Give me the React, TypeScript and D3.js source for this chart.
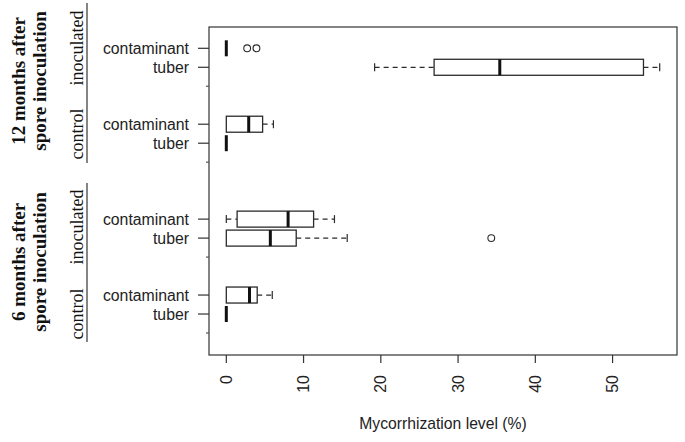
import * as d3 from 'd3';

// Box statistics (values in %)
const boxLabels = ["contaminant", "tuber", "contaminant", "tuber", "contaminant", "tuber", "contaminant", "tuber"];
const boxSlots = [16, 15, 12, 11, 7, 6, 3, 2];
const whiskerLow = [0, 19.2, 0, 0, 0, 0, 0, 0];
const q1 = [0, 26.9, 0, 0, 1.4, 0, 0, 0];
const median = [0, 35.4, 2.9, 0, 8.0, 5.7, 3.0, 0];
const q3 = [0, 54.0, 4.7, 0, 11.3, 9.05, 4.0, 0];
const whiskerHigh = [0, 56.1, 6.1, 0, 14.0, 15.65, 5.95, 0];
const outliers = [[2.7, 3.9], [], [], [], [], [34.3], [], []];
const emptySlots = [14, 10, 5, 1];
const xTicks = [0, 10, 20, 30, 40, 50];

const treatmentLabels = ["inoculated", "control", "inoculated", "control"];
const treatmentCenters = [48, 134, 227, 314];
const periodLabels = [
  ["12 months after", "spore inoculation"],
  ["6 months after", "spore inoculation"],
];
const periodCenters = [81, 262];
const periodBars = [[3, 163], [183, 342]];

const W = 685;
const H = 442;
const plot = { left: 209, right: 677, top: 27, bottom: 355 };

const sans = "'Liberation Sans', Arial, sans-serif";
const serif = "'Liberation Serif', 'Times New Roman', serif";

export default function App() {
  const x = d3.scaleLinear().domain([-2.24, 58.34]).range([plot.left, plot.right]);
  const y = d3.scaleLinear().domain([1, 16]).range([333, 48.3]);
  const half = 8;
  const stroke = "#2b2b2b";

  return (
    <div style={{ position: 'fixed', left: 0, top: 0 }}>
      <svg width={W} height={H} style={{ display: 'block', background: '#fff' }}>
        {/* period titles */}
        {periodLabels.map((lines, i) => (
          <g key={'p' + i}>
            {lines.map((t, j) => (
              <text key={j}
                transform={`translate(${j === 0 ? 25 : 46},${periodCenters[i]}) rotate(-90)`}
                textAnchor="middle" fontFamily={serif} fontWeight="bold" fontSize={19} fill="#111">
                {t}
              </text>
            ))}
            <line x1={87} x2={87} y1={periodBars[i][0]} y2={periodBars[i][1]} stroke="#333" strokeWidth={1.2} />
          </g>
        ))}

        {treatmentLabels.map((t, i) => (
          <text key={'t' + i}
            transform={`translate(83,${treatmentCenters[i]}) rotate(-90)`}
            textAnchor="middle" fontFamily={serif} fontSize={18} fill="#111">
            {t}
          </text>
        ))}

        {/* frame */}
        <rect x={plot.left} y={plot.top} width={plot.right - plot.left} height={plot.bottom - plot.top}
          fill="none" stroke="#333" strokeWidth={1.2} />

        {/* y ticks */}
        {boxSlots.map((s, i) => (
          <g key={'yt' + i}>
            <line x1={198} x2={plot.left} y1={y(s)} y2={y(s)} stroke="#333" strokeWidth={1.2} />
            <text x={189} y={y(s)} dy="0.35em" textAnchor="end" fontFamily={sans} fontSize={15.8} fill="#222">
              {boxLabels[i]}
            </text>
          </g>
        ))}
        {emptySlots.map((s, i) => (
          <line key={'ye' + i} x1={206} x2={plot.left} y1={y(s)} y2={y(s)} stroke="#555" strokeWidth={1.2} />
        ))}

        {/* x ticks */}
        {xTicks.map((t) => (
          <g key={'xt' + t}>
            <line x1={x(t)} x2={x(t)} y1={plot.bottom} y2={363} stroke="#333" strokeWidth={1.2} />
            <text transform={`translate(${x(t)},375) rotate(-90)`} dy="0.35em" textAnchor="end"
              fontFamily={sans} fontSize={16} fill="#222">
              {t}
            </text>
          </g>
        ))}
        <text x={443} y={429} textAnchor="middle" fontFamily={sans} fontSize={15.7} fill="#222">
          Mycorrhization level (%)
        </text>

        {/* boxes */}
        {boxSlots.map((s, i) => {
          const cy = y(s);
          return (
            <g key={'b' + i}>
              {whiskerLow[i] < q1[i] && (
                <>
                  <line x1={x(whiskerLow[i])} x2={x(q1[i])} y1={cy} y2={cy} stroke={stroke} strokeWidth={1.2} strokeDasharray="5,4" />
                  <line x1={x(whiskerLow[i])} x2={x(whiskerLow[i])} y1={cy - half / 2} y2={cy + half / 2} stroke={stroke} strokeWidth={1.2} />
                </>
              )}
              {whiskerHigh[i] > q3[i] && (
                <>
                  <line x1={x(q3[i])} x2={x(whiskerHigh[i])} y1={cy} y2={cy} stroke={stroke} strokeWidth={1.2} strokeDasharray="5,4" />
                  <line x1={x(whiskerHigh[i])} x2={x(whiskerHigh[i])} y1={cy - half / 2} y2={cy + half / 2} stroke={stroke} strokeWidth={1.2} />
                </>
              )}
              {q3[i] > q1[i] && (
                <rect x={x(q1[i])} y={cy - half} width={x(q3[i]) - x(q1[i])} height={half * 2}
                  fill="#fff" stroke={stroke} strokeWidth={1.3} />
              )}
              <line x1={x(median[i])} x2={x(median[i])} y1={cy - half} y2={cy + half} stroke="#111" strokeWidth={3} />
              {outliers[i].map((o, k) => (
                <circle key={k} cx={x(o)} cy={cy} r={3.4} fill="none" stroke={stroke} strokeWidth={1.1} />
              ))}
            </g>
          );
        })}
      </svg>
    </div>
  );
}
